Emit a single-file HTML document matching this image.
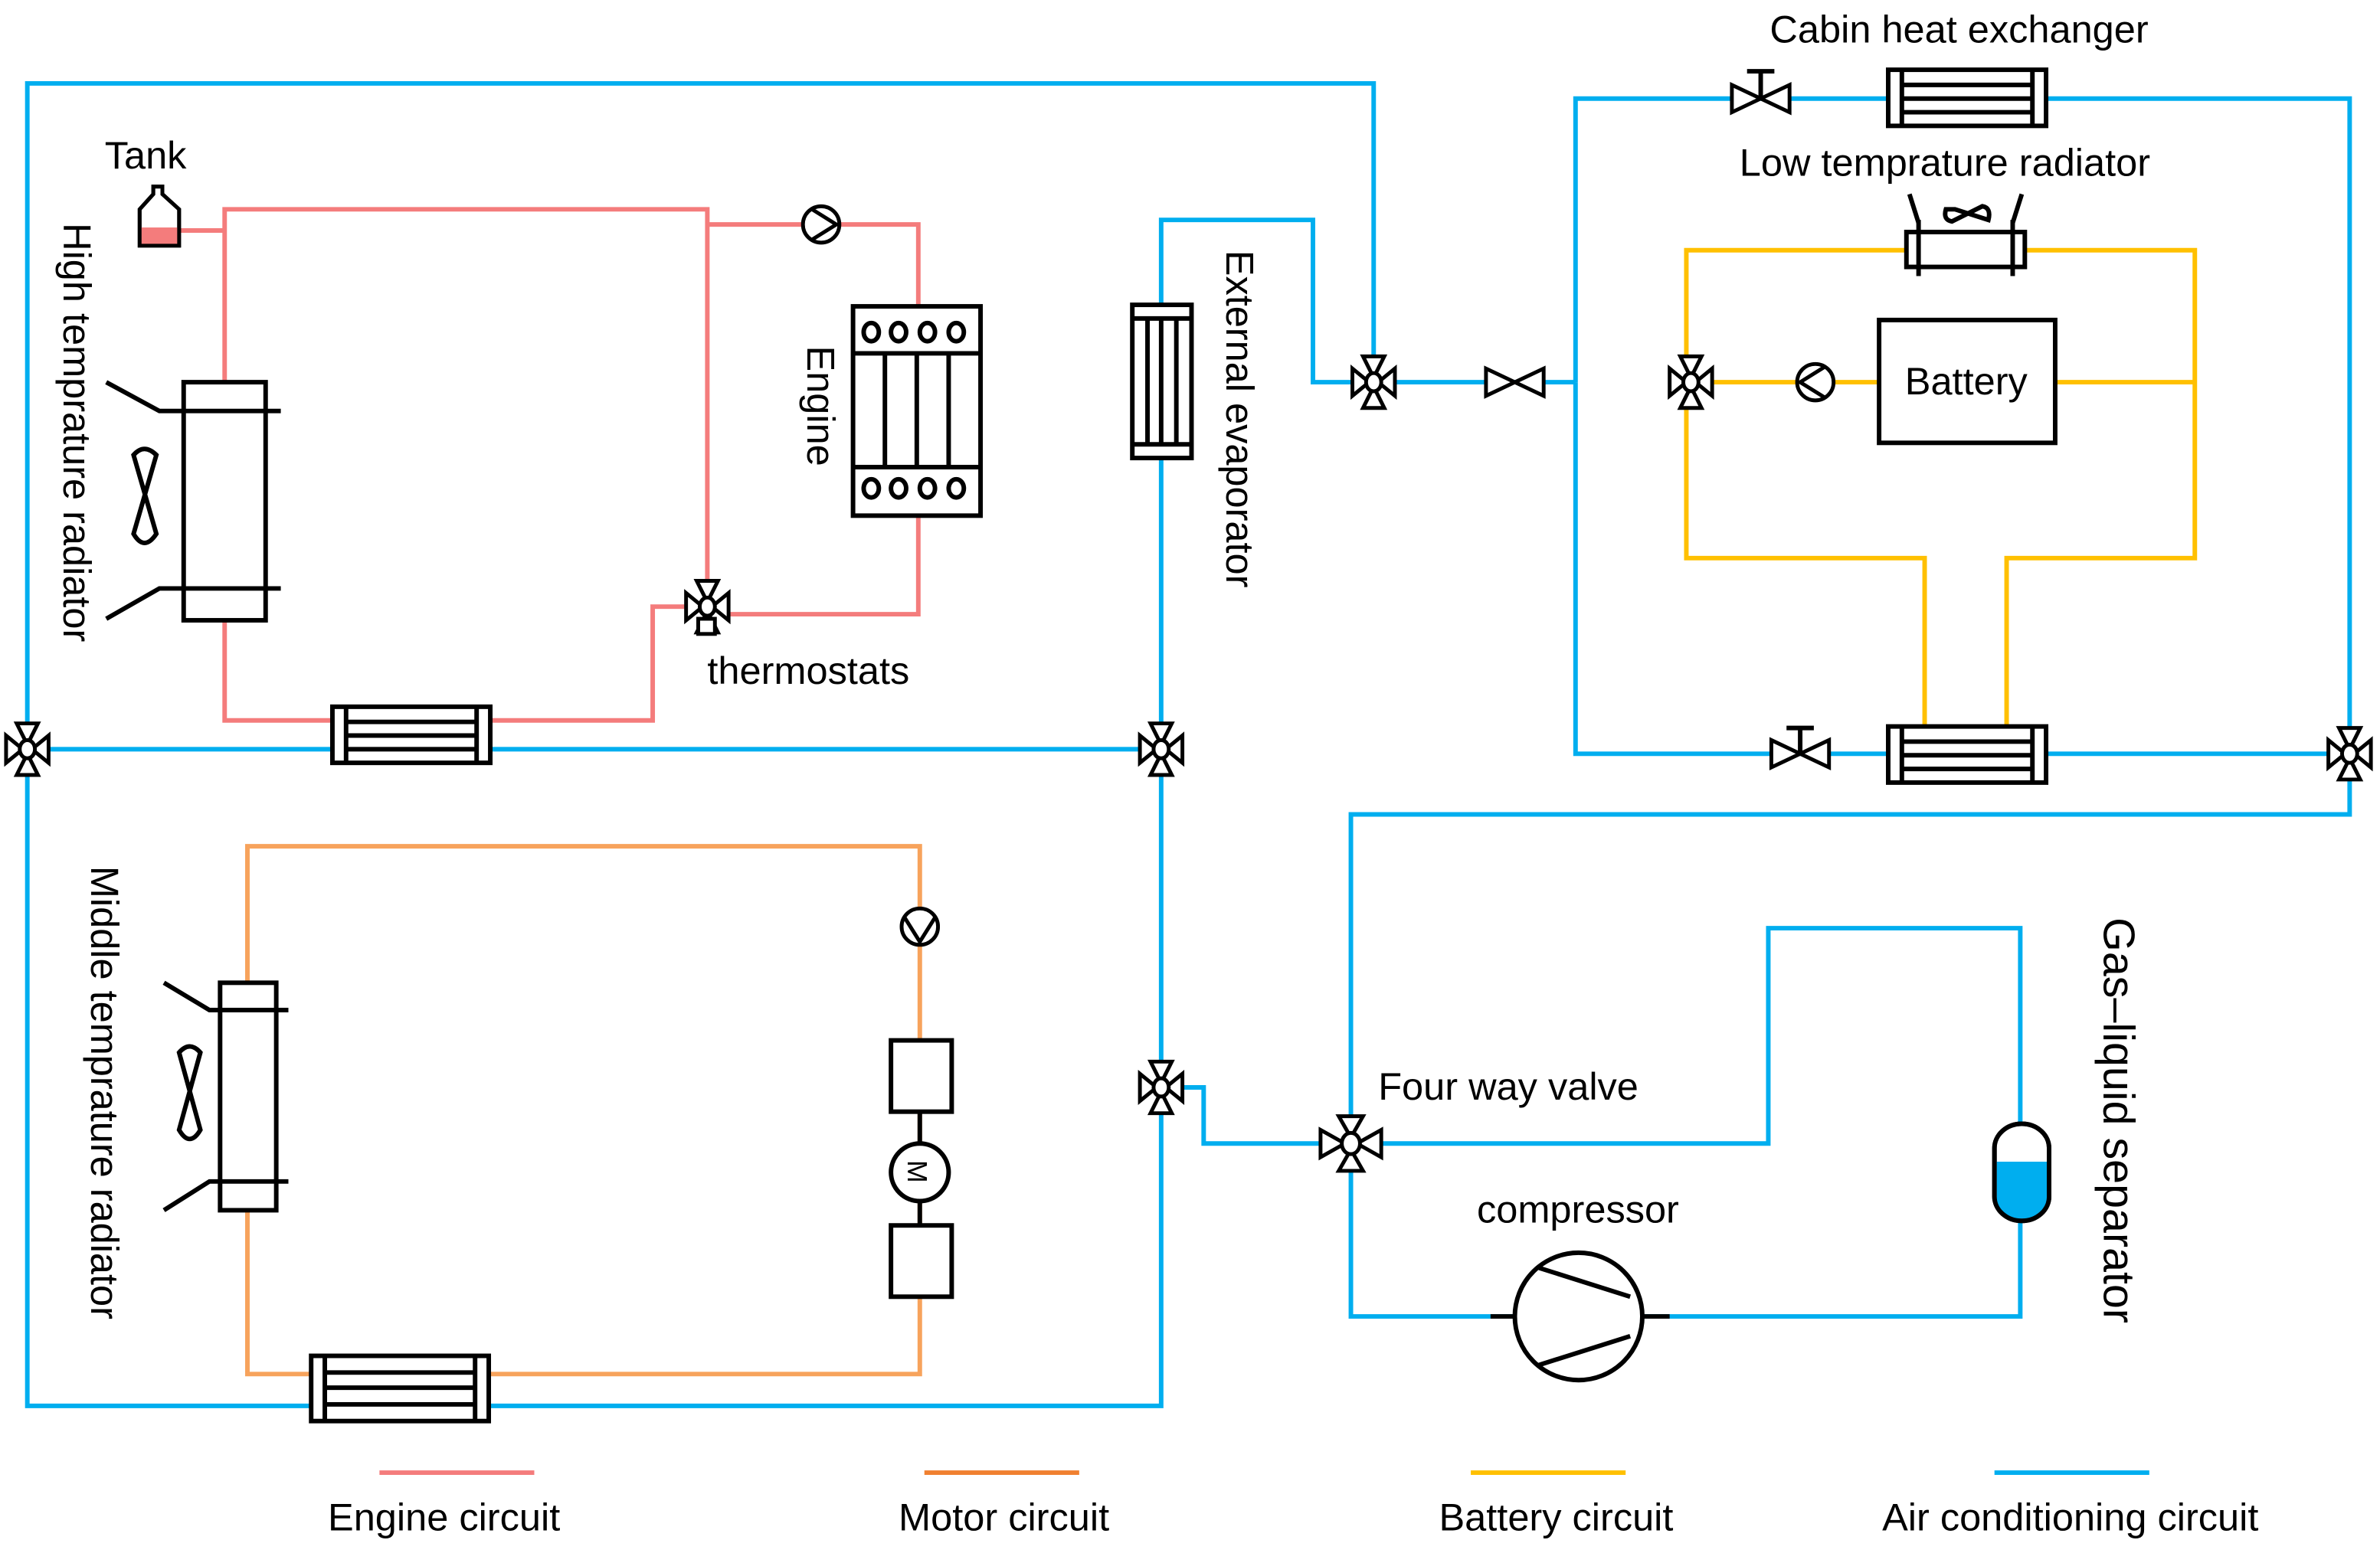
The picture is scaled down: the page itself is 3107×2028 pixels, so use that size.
<!DOCTYPE html>
<html><head><meta charset="utf-8"><style>
html,body{margin:0;padding:0;background:#fff;}
svg{display:block;}
text{font-family:"Liberation Sans",sans-serif;font-size:25.5px;fill:#000;}
</style></head><body>
<svg width="3107" height="2028" viewBox="0 0 1568 1024" preserveAspectRatio="none" xmlns="http://www.w3.org/2000/svg">
<defs>
<g id="v3" stroke="#000" stroke-width="2.5" fill="#fff">
<polygon points="-7,-17 7,-17 0,-3"/>
<polygon points="-7,17 7,17 0,3"/>
<polygon points="-14,-9 -14,9 -3,0"/>
<polygon points="14,-9 14,9 3,0"/>
<ellipse cx="0" cy="0" rx="5" ry="6"/>
</g>
<g id="bt" stroke="#000" stroke-width="2.5" fill="#fff">
<polygon points="-19,-9 -19,9 19,-9 19,9"/>
</g>
<g id="hx" stroke="#000" stroke-width="3" fill="#fff">
<rect x="0" y="0" width="104" height="37"/>
<line x1="9" y1="0" x2="9" y2="37"/><line x1="95" y1="0" x2="95" y2="37"/>
<line x1="9" y1="10" x2="95" y2="10"/><line x1="9" y1="19" x2="95" y2="19"/><line x1="9" y1="28" x2="95" y2="28"/>
</g>
<g id="pump" stroke="#000" stroke-width="2.5" fill="#fff">
<circle cx="0" cy="0" r="12"/>
<polyline points="-6,-10 10,0 -6,10" fill="none"/>
</g>
</defs>

<g stroke="#00AEEF" stroke-width="3" fill="none">
<polyline points="905,240 905,55 18,55 18,927 765,927 765,145 865,145 865,252 1038,252"/>
<line x1="18" y1="494" x2="765" y2="494"/>
<polyline points="1038,252 1038,65 1548,65 1548,537 890,537 890,868 1331,868 1331,612 1165,612 1165,754 890,754"/>
<polyline points="1038,252 1038,497 1548,497"/>
<polyline points="765,717 793,717 793,754 890,754"/>
</g>
<g stroke="#F47C7C" stroke-width="3" fill="none">
<polyline points="118,152 148,152"/>
<polyline points="148,252 148,138 466,138 466,395"/>
<polyline points="466,148 605,148 605,202"/>
<polyline points="605,340 605,405 476,405"/>
<polyline points="455,400 430,400 430,475 148,475 148,409"/>
</g>
<g stroke="#F7A35C" stroke-width="3" fill="none">
<polyline points="163,648 163,558 606,558 606,906 163,906 163,798"/>
</g>
<g stroke="#FFC000" stroke-width="3" fill="none">
<polyline points="1111,240 1111,165 1446,165 1446,368 1322,368 1322,480"/>
<polyline points="1268,480 1268,368 1111,368 1111,262"/>
<line x1="1114" y1="252" x2="1446" y2="252"/>
</g>

<path d="M92,162 L92,138 L101,128 L101,123 L107,123 L107,128 L118,138 L118,162 Z" fill="#fff" stroke="#000" stroke-width="2.5"/>
<rect x="93" y="150" width="24" height="11" fill="#F47C7C"/>
<path d="M92,162 L92,138 L101,128 L101,123 L107,123 L107,128 L118,138 L118,162 Z" fill="none" stroke="#000" stroke-width="2.5"/>
<text x="69" y="111">Tank</text>

<g stroke="#000" stroke-width="3" fill="#fff">
<rect x="121" y="252" width="54" height="157"/>
<polyline points="70,252 105,271 185,271" fill="none"/>
<polyline points="70,408 105,388 185,388" fill="none"/>
<path d="M88,300 Q95,292 103,300 L88,352 Q95,364 103,352 Z"/>
</g>
<text transform="translate(42,147) rotate(90)">High temprature radiator</text>

<use href="#pump" x="541" y="148"/>
<g stroke="#000" stroke-width="3" fill="#fff">
<rect x="562" y="202" width="84" height="138"/>
<line x1="562" y1="233" x2="646" y2="233"/><line x1="562" y1="308" x2="646" y2="308"/>
<line x1="583" y1="233" x2="583" y2="308"/><line x1="604" y1="233" x2="604" y2="308"/><line x1="625" y1="233" x2="625" y2="308"/>
<ellipse cx="574" cy="219" rx="5" ry="6"/><ellipse cx="592" cy="219" rx="5" ry="6"/><ellipse cx="611" cy="219" rx="5" ry="6"/><ellipse cx="630" cy="219" rx="5" ry="6"/>
<ellipse cx="574" cy="322" rx="5" ry="6"/><ellipse cx="592" cy="322" rx="5" ry="6"/><ellipse cx="611" cy="322" rx="5" ry="6"/><ellipse cx="630" cy="322" rx="5" ry="6"/>
</g>
<text transform="translate(532,228) rotate(90)">Engine</text>

<use href="#v3" x="466" y="400"/>
<rect x="460" y="408" width="11" height="10" fill="#fff" stroke="#000" stroke-width="2.5"/>
<text x="466" y="451">thermostats</text>

<use href="#hx" x="219" y="466"/>
<use href="#v3" x="18" y="494"/>
<use href="#v3" x="765" y="494"/>

<g stroke="#000" stroke-width="3" fill="#fff">
<rect x="746" y="201" width="39" height="101"/>
<line x1="746" y1="210" x2="785" y2="210"/><line x1="746" y1="293" x2="785" y2="293"/>
<line x1="756" y1="210" x2="756" y2="293"/><line x1="765" y1="210" x2="765" y2="293"/><line x1="775" y1="210" x2="775" y2="293"/>
</g>
<text transform="translate(808,165) rotate(90)">External evaporator</text>

<use href="#v3" x="905" y="252"/>
<use href="#bt" x="998" y="252"/>

<use href="#bt" x="1160" y="65"/>
<line x1="1160" y1="65" x2="1160" y2="47" stroke="#000" stroke-width="3"/>
<line x1="1151" y1="47" x2="1169" y2="47" stroke="#000" stroke-width="3"/>
<use href="#hx" x="1244" y="46"/>
<text x="1166" y="28">Cabin heat exchanger</text>
<text x="1146" y="116">Low temprature radiator</text>

<g stroke="#000" stroke-width="3" fill="#fff">
<rect x="1256" y="153" width="78" height="23"/>
<line x1="1264" y1="145" x2="1264" y2="182"/><line x1="1326" y1="145" x2="1326" y2="182"/>
<polyline points="1258,128 1264,147" fill="none"/><polyline points="1332,128 1326,147" fill="none"/>
<path d="M1282,138 Q1280,145 1286,146 L1306,136 Q1312,137 1310,145 L1288,138 Z"/>
</g>
<use href="#v3" x="1114" y="252"/>
<use href="#pump" x="1196" y="252" transform="rotate(180 1196 252)"/>
<rect x="1238" y="211" width="116" height="81" fill="#fff" stroke="#000" stroke-width="3"/>
<text x="1255" y="260">Battery</text>

<use href="#bt" x="1186" y="497"/>
<line x1="1186" y1="497" x2="1186" y2="480" stroke="#000" stroke-width="3"/>
<line x1="1177" y1="480" x2="1195" y2="480" stroke="#000" stroke-width="3"/>
<use href="#hx" x="1244" y="479"/>
<use href="#v3" x="1548" y="497"/>

<use href="#pump" x="606" y="611" transform="rotate(90 606 611)"/>
<g stroke="#000" stroke-width="3" fill="#fff">
<rect x="587" y="686" width="40" height="47"/>
<line x1="606" y1="733" x2="606" y2="808"/>
<circle cx="606" cy="773" r="19"/>
<rect x="587" y="808" width="40" height="47"/>
</g>
<text transform="translate(598,765) rotate(90)" style="font-size:18px">M</text>
<g stroke="#000" stroke-width="3" fill="#fff">
<rect x="145" y="648" width="37" height="150"/>
<polyline points="108,648 138,666 190,666" fill="none"/>
<polyline points="108,798 138,779 190,779" fill="none"/>
<path d="M118,694 Q125,686 132,694 L118,745 Q125,757 132,745 Z"/>
</g>
<text transform="translate(60,571) rotate(90)">Middle temprature radiator</text>
<g stroke="#000" stroke-width="3" fill="#fff">
<rect x="205" y="894" width="117" height="43"/>
<line x1="214" y1="894" x2="214" y2="937"/><line x1="313" y1="894" x2="313" y2="937"/>
<line x1="214" y1="905" x2="313" y2="905"/><line x1="214" y1="915" x2="313" y2="915"/><line x1="214" y1="926" x2="313" y2="926"/>
</g>
<use href="#v3" x="765" y="717"/>

<g stroke="#000" stroke-width="2.5" fill="#fff">
<polygon points="-8,-18 8,-18 0,-4" transform="translate(890,754)"/>
<polygon points="-8,18 8,18 0,4" transform="translate(890,754)"/>
<polygon points="-20,-9 -20,9 -4,0" transform="translate(890,754)"/>
<polygon points="20,-9 20,9 4,0" transform="translate(890,754)"/>
<ellipse cx="890" cy="754" rx="6" ry="7"/>
</g>
<text x="908" y="725">Four way valve</text>

<g stroke="#000" stroke-width="3" fill="#fff">
<line x1="982" y1="868" x2="998" y2="868"/><line x1="1082" y1="868" x2="1100" y2="868"/>
<circle cx="1040" cy="868" r="42"/>
<line x1="1014" y1="836" x2="1074" y2="855"/>
<line x1="1014" y1="900" x2="1074" y2="881"/>
</g>
<text x="973" y="806">compressor</text>

<rect x="1314" y="741" width="36" height="64" rx="18" ry="16" fill="#fff" stroke="#000" stroke-width="3"/>
<path d="M1315.5,766 L1348.5,766 L1348.5,789 Q1348.5,803.5 1332,803.5 Q1315.5,803.5 1315.5,789 Z" fill="#00AEEF"/>
<rect x="1314" y="741" width="36" height="64" rx="18" ry="16" fill="none" stroke="#000" stroke-width="3"/>
<text transform="translate(1386,605) rotate(90)" style="font-size:29px">Gas–liquid separator</text>

<g stroke-width="3">
<line x1="250" y1="971" x2="352" y2="971" stroke="#F47C7C"/>
<line x1="609" y1="971" x2="711" y2="971" stroke="#F08030"/>
<line x1="969" y1="971" x2="1071" y2="971" stroke="#FFC000"/>
<line x1="1314" y1="971" x2="1416" y2="971" stroke="#00AEEF"/>
</g>
<text x="216" y="1009">Engine circuit</text>
<text x="592" y="1009">Motor circuit</text>
<text x="948" y="1009">Battery circuit</text>
<text x="1240" y="1009">Air conditioning circuit</text>
</svg>
</body></html>
